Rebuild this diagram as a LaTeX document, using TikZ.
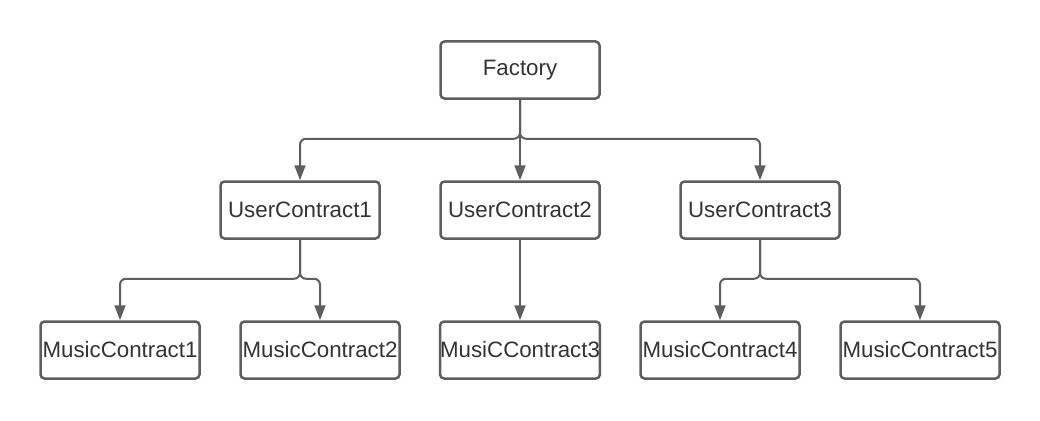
\documentclass[tikz,border=0pt]{standalone}
\usepackage{fontspec}
\setmainfont{Liberation Sans}
\usetikzlibrary{arrows.meta}
\definecolor{edge}{HTML}{5E5E5E}
\definecolor{txt}{HTML}{333333}
\begin{document}
\begin{tikzpicture}[x=1pt,y=-1pt,
  box/.style={draw=edge, line width=2.5pt, rounded corners=4pt, fill=white,
    minimum width=159pt, minimum height=57pt, inner sep=0pt,
    text=txt, font=\fontsize{22.3}{26}\selectfont},
  conn/.style={draw=edge, line width=2pt, rounded corners=6pt,
    -{Triangle[length=15pt,width=11pt]}}]
\useasboundingbox (0,0) rectangle (1040,420);
\node[box] (F) at (520,70) {Factory};
\node[box] (U1) at (300,210) {UserContract1};
\node[box] (U2) at (520,210) {UserContract2};
\node[box] (U3) at (760,210) {UserContract3};
\node[box] (M1) at (120,350) {MusicContract1};
\node[box] (M2) at (320,350) {MusicContract2};
\node[box] (M3) at (520,350) {MusiCContract3};
\node[box] (M4) at (720,350) {MusicContract4};
\node[box] (M5) at (920,350) {MusicContract5};
\draw[conn] (F.south) -- ++(0,39) -| (U1.north);
\draw[conn] (F.south) -- (U2.north);
\draw[conn] (F.south) -- ++(0,39) -| (U3.north);
\draw[conn] (U1.south) -- ++(0,39) -| (M1.north);
\draw[conn] (U1.south) -- ++(0,39) -| (M2.north);
\draw[conn] (U2.south) -- (M3.north);
\draw[conn] (U3.south) -- ++(0,39) -| (M4.north);
\draw[conn] (U3.south) -- ++(0,39) -| (M5.north);
\end{tikzpicture}
\end{document}
